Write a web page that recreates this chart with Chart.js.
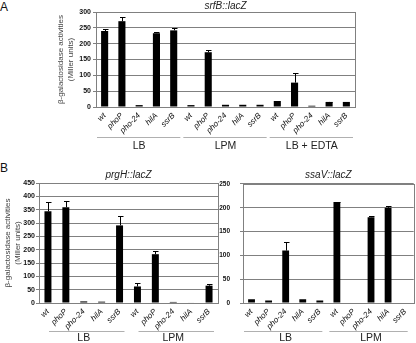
<!DOCTYPE html>
<html>
<head>
<meta charset="utf-8">
<script src="https://cdn.jsdelivr.net/npm/chart.js@4.4.0/dist/chart.umd.min.js"></script>
<style>
  body { margin: 0; background: #fff; width: 416px; height: 343px; position: relative; overflow: hidden; font-family: "Liberation Sans", Arial, sans-serif; }
  canvas { position: absolute; }
  .panel-letter { position: absolute; font-size: 12px; color: #111; line-height: 12px; }
</style>
</head>
<body>
<div class="panel-letter" style="left:0;top:1px">A</div>
<div class="panel-letter" style="left:0;top:162px">B</div>
<canvas id="chartA" width="416" height="170" style="left:0;top:0"></canvas>
<canvas id="chartB1" width="220" height="173" style="left:0;top:170px"></canvas>
<canvas id="chartB2" width="202" height="173" style="left:214px;top:170px"></canvas>
<script>
// strains repeat inside every growth condition
const strains = ['wt', 'phoP', 'pho-24', 'hilA', 'ssrB'];
const mediaA = ['LB', 'LPM', 'LB + EDTA'];
const mediaB = ['LB', 'LPM'];

// Miller units
const srfBValues = [240, 271, 6, 233, 242, 6, 173, 7, 7, 7, 19, 77, 4, 16, 16];
const srfBErrors = [7, 12, 0, 3, 8, 0, 6, 0, 0, 0, 0, 30, 0, 1, 0];
const prgHValues = [344, 359, 6, 5, 291, 62, 183, 4, 2, 65];
const prgHErrors = [33, 25, 0, 0, 37, 13, 12, 0, 0, 7];
const ssaVValues = [8, 5, 110, 8, 5, 212, 1, 180, 200, 1];
const ssaVErrors = [0, 0, 19, 0, 0, 1, 0, 3, 3, 0];

const FONT = '"Liberation Sans", Arial, sans-serif';
const GRID = '#808080';

// frame, error bars, gene title and condition brackets
const panelDecor = {
    id: 'panelDecor',
    beforeDatasetsDraw(chart, args, opts) {
        const a = chart.chartArea;
        const ctx = chart.ctx;
        ctx.save();
        ctx.strokeStyle = GRID;
        ctx.lineWidth = 1;
        ctx.strokeRect(Math.round(a.left) + 0.5, Math.round(a.top) + 0.5,
            Math.round(a.right - a.left), Math.round(a.bottom - a.top));
        ctx.restore();
    },
    afterDatasetsDraw(chart, args, opts) {
        const ctx = chart.ctx;
        const a = chart.chartArea;
        const xs = chart.scales.x, ys = chart.scales.y;
        const meta = chart.getDatasetMeta(0);
        const values = chart.data.datasets[0].data;
        ctx.save();

        ctx.strokeStyle = '#000';
        ctx.lineWidth = 1;
        opts.errors.forEach((err, i) => {
            if (!err) return;
            const bx = Math.round(meta.data[i].x) + 0.5;
            const top = Math.round(ys.getPixelForValue(values[i] + err)) + 0.5;
            const base = ys.getPixelForValue(values[i]);
            ctx.beginPath();
            ctx.moveTo(bx, base);
            ctx.lineTo(bx, top);
            ctx.moveTo(bx - 2.5, top);
            ctx.lineTo(bx + 3, top);
            ctx.stroke();
        });

        ctx.fillStyle = '#222';
        ctx.textAlign = 'center';
        ctx.textBaseline = 'middle';
        ctx.font = 'italic 10px ' + FONT;
        ctx.fillText(opts.title, (a.left + a.right) / 2, opts.titleY);

        const step = xs.getPixelForValue(1) - xs.getPixelForValue(0);
        ctx.font = '10.5px ' + FONT;
        opts.groups.forEach((name, g) => {
            const first = g * strains.length;
            const last = first + strains.length - 1;
            const left = xs.getPixelForValue(first) - step / 2;
            const right = xs.getPixelForValue(last) + step / 2;
            ctx.strokeStyle = '#b0b0b0';
            ctx.beginPath();
            ctx.moveTo(left + opts.inset[0], opts.lineY + 0.5);
            ctx.lineTo(right - opts.inset[1], opts.lineY + 0.5);
            ctx.stroke();
            ctx.fillText(name, (left + right) / 2, opts.labelY);
        });
        ctx.restore();
    }
};

function makeChart(id, values, errors, cfg) {
    const labels = cfg.groups.flatMap(() => strains);
    return new Chart(document.getElementById(id), {
        type: 'bar',
        data: {
            labels: labels,
            datasets: [{
                data: values,
                backgroundColor: '#000',
                barPercentage: cfg.barPct,
                categoryPercentage: 1
            }]
        },
        options: {
            responsive: false,
            animation: false,
            layout: { padding: cfg.padding },
            plugins: {
                legend: { display: false },
                tooltip: { enabled: false },
                panelDecor: {
                    errors: errors,
                    title: cfg.title,
                    titleY: cfg.titleY,
                    groups: cfg.groups,
                    lineY: cfg.lineY,
                    labelY: cfg.labelY,
                    inset: cfg.inset
                }
            },
            scales: {
                x: {
                    grid: { display: false, drawTicks: false },
                    border: { color: GRID },
                    ticks: {
                        minRotation: 45,
                        maxRotation: 45,
                        autoSkip: false,
                        padding: 4,
                        color: '#111',
                        font: { family: FONT, size: 8, style: 'italic' }
                    },
                    afterFit: s => { s.height = cfg.xHeight; }
                },
                y: {
                    min: 0,
                    max: cfg.max,
                    ticks: {
                        stepSize: 50,
                        padding: cfg.tickPad,
                        color: '#111',
                        font: { family: FONT, size: cfg.tickSize, weight: 'bold' }
                    },
                    grid: { color: GRID, tickLength: 3 },
                    border: { color: GRID },
                    title: {
                        display: cfg.yTitlePad !== null,
                        text: ['\u03b2-galactosidase activities', '(Miller units)'],
                        color: '#444',
                        font: { family: FONT, size: 8, lineHeight: 1.25 },
                        padding: { top: cfg.yTitlePad || 0, bottom: 0 }
                    },
                    afterFit: s => { s.width = cfg.yWidth; }
                }
            }
        },
        plugins: [panelDecor]
    });
}

makeChart('chartA', srfBValues, srfBErrors, {
    groups: mediaA, title: 'srfB::lacZ', max: 300,
    padding: { left: 0, top: 12, right: 61, bottom: 0 },
    yWidth: 96, xHeight: 63, tickPad: 2, tickSize: 7, yTitlePad: 56,
    barPct: 0.41, titleY: 6, lineY: 137, labelY: 146, inset: [1, 2]
});

makeChart('chartB1', prgHValues, prgHErrors, {
    groups: mediaB, title: 'prgH::lacZ', max: 450,
    padding: { left: 0, top: 13, right: 2, bottom: 0 },
    yWidth: 39, xHeight: 40, tickPad: 1, tickSize: 7, yTitlePad: 2.5,
    barPct: 0.39, titleY: 5, lineY: 161, labelY: 168, inset: [10, 4]
});

makeChart('chartB2', ssaVValues, ssaVErrors, {
    groups: mediaB, title: 'ssaV::lacZ', max: 250,
    padding: { left: 0, top: 13, right: 1, bottom: 0 },
    yWidth: 29, xHeight: 40, tickPad: 10, tickSize: 6.5, yTitlePad: null,
    barPct: 0.4, titleY: 5, lineY: 161, labelY: 168, inset: [1, 6]
});
</script>
</body>
</html>
